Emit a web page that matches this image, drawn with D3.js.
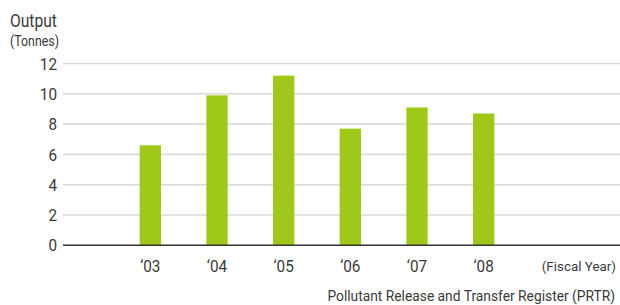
<!DOCTYPE html>
<html>
<head>
<meta charset="utf-8">
<script src="https://cdn.jsdelivr.net/npm/d3@7"></script>
<style>
  body { margin: 0; background: #fff; }
  svg text { font-family: "Roboto", sans-serif; fill: #3a3a3a; }
</style>
</head>
<body>
<svg width="620" height="305"></svg>
<script>
const years = ["‘03", "‘04", "‘05", "‘06", "‘07", "‘08"];
const output = [6.6, 9.9, 11.2, 7.7, 9.1, 8.7];
const yTicks = [0, 2, 4, 6, 8, 10, 12];

const svg = d3.select("svg");

const left = 63, right = 620;
const y = d3.scaleLinear().domain([0, 12]).range([245.3, 63.5]);
const x = d3.scaleBand().domain(years).range([117, 517]).paddingInner(0.68).paddingOuter(0.34);

// grid lines
svg.append("g")
  .selectAll("line")
  .data(yTicks.filter(d => d > 0))
  .join("line")
  .attr("x1", left)
  .attr("x2", right)
  .attr("y1", d => y(d))
  .attr("y2", d => y(d))
  .attr("stroke", "#dadada")
  .attr("stroke-width", 1.6);

// y tick labels (scaled a bit narrower, the original font is condensed)
svg.append("g")
  .selectAll("text")
  .data(yTicks)
  .join("text")
  .attr("transform", d => `translate(57,${y(d)}) scale(0.9,1)`)
  .attr("dy", "0.36em")
  .attr("text-anchor", "end")
  .attr("font-size", 17)
  .text(d => d);

// bars
svg.append("g")
  .selectAll("rect")
  .data(output)
  .join("rect")
  .attr("x", (d, i) => x(years[i]))
  .attr("width", x.bandwidth())
  .attr("y", d => y(d))
  .attr("height", d => y(0) - y(d))
  .attr("fill", "#a0c81a");

// baseline
svg.append("line")
  .attr("x1", left)
  .attr("x2", right)
  .attr("y1", y(0))
  .attr("y2", y(0))
  .attr("stroke", "#333")
  .attr("stroke-width", 1.5);

// x labels
svg.append("g")
  .selectAll("text")
  .data(years)
  .join("text")
  .attr("transform", d => `translate(${x(d) + x.bandwidth() / 2},272) scale(0.9,1)`)
  .attr("text-anchor", "middle")
  .attr("font-size", 17)
  .text(d => d);

svg.append("text")
  .attr("x", 616)
  .attr("y", 271)
  .attr("text-anchor", "end")
  .attr("font-size", 13.4)
  .text("(Fiscal Year)");

svg.append("text")
  .attr("x", 10)
  .attr("y", 27)
  .attr("font-size", 17.5)
  .attr("textLength", 47)
  .attr("lengthAdjust", "spacingAndGlyphs")
  .text("Output");

svg.append("text")
  .attr("x", 10)
  .attr("y", 46)
  .attr("font-size", 14.5)
  .attr("textLength", 49)
  .attr("lengthAdjust", "spacingAndGlyphs")
  .text("(Tonnes)");

svg.append("text")
  .attr("x", 615)
  .attr("y", 301)
  .attr("text-anchor", "end")
  .attr("font-size", 13.8)
  .text("Pollutant Release and Transfer Register (PRTR)");
</script>
</body>
</html>
